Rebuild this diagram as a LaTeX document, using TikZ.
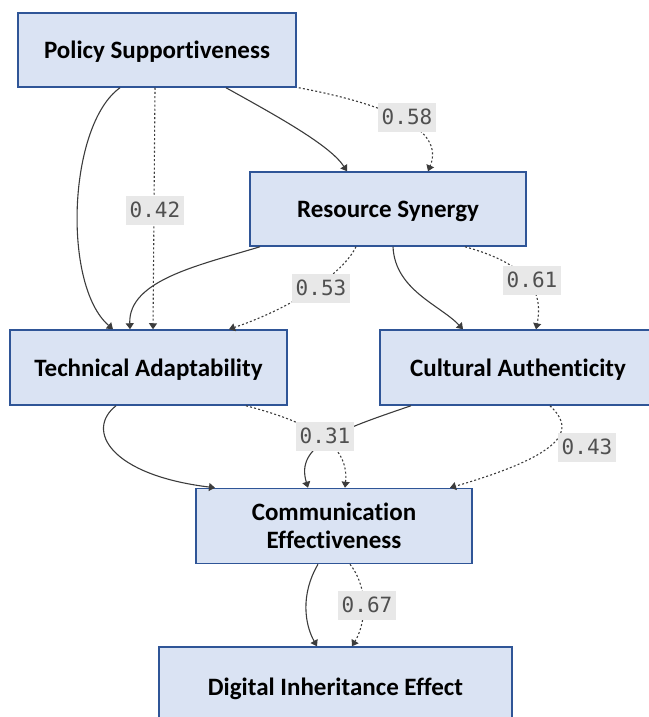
\documentclass[tikz,border=0pt]{standalone}
\usepackage{fontspec}
\setmainfont[Ligatures=NoCommon]{Carlito}
\newfontfamily\labelfont{DejaVu Sans Mono}
\usetikzlibrary{arrows.meta}
\definecolor{boxfill}{RGB}{218,227,243}
\definecolor{boxdraw}{RGB}{47,85,151}
\definecolor{edgecol}{RGB}{60,60,60}
\definecolor{lbltext}{RGB}{80,80,80}
\definecolor{lblfill}{RGB}{232,232,232}
\newcommand{\lowtxt}[1]{\raisebox{-3pt}[16pt][5pt]{#1}}
\tikzset{
  box/.style={draw=boxdraw, fill=boxfill, line width=1.5pt, minimum width=276pt, minimum height=75pt,
    inner sep=0pt, align=center, font=\fontsize{25}{29}\selectfont\bfseries},
  conn/.style={draw=edgecol, line width=1.1pt, -{Triangle[width=8pt,length=6pt]}},
  dotconn/.style={conn, dash pattern=on 2pt off 2.2pt},
  lbl/.style={fill=lblfill, text=lbltext, inner xsep=4pt, inner ysep=0pt, minimum height=29pt,
    font=\labelfont\fontsize{21}{22}\selectfont}
}
\begin{document}
\begin{tikzpicture}[x=1pt,y=-1pt]
\useasboundingbox (0,0) rectangle (648,717);
\node[box, minimum width=278pt, minimum height=74pt] (ps) at (157,50) {\lowtxt{Policy Supportiveness}};
\node[box, minimum height=74pt] (rs) at (388,209) {\lowtxt{Resource Synergy}};
\node[box, minimum width=277pt] (ta) at (148.5,367.5) {\lowtxt{Technical Adaptability}};
\node[box] (ca) at (518,367.5) {\lowtxt{Cultural Authenticity}};
\node[box] (ce) at (334,526) {\raisebox{-1pt}{Communication}\\Effectiveness};
\node[box, minimum width=353pt, minimum height=80pt] (die) at (335.5,687) {\lowtxt{Digital Inheritance Effect}};

% Policy -> Technical
\draw[conn] ([xshift=-37pt]ps.south) .. controls (68,125) and (62,285) .. ([xshift=-35.5pt]ta.north);
\draw[dotconn] ([xshift=-2pt]ps.south) -- ([xshift=4.5pt]ta.north);
% Policy -> Resource
\draw[conn] ([xshift=69pt]ps.south) .. controls (275,115) and (330,145) .. ([xshift=-41pt]rs.north);
\draw[dotconn] ([xshift=2pt]ps.south east) .. controls (390,105) and (445,130) .. ([xshift=40pt]rs.north);
% Resource -> Technical
\draw[conn] ([xshift=-128pt]rs.south) .. controls (200,265) and (128,280) .. ([xshift=-18.5pt]ta.north);
\draw[dotconn] ([xshift=-32pt]rs.south) .. controls (345,270) and (300,305) .. ([xshift=80.5pt]ta.north);
% Resource -> Cultural
\draw[conn] ([xshift=5pt]rs.south) .. controls (395,290) and (440,305) .. ([xshift=-55pt]ca.north);
\draw[dotconn] ([xshift=77pt]rs.south) .. controls (520,262) and (545,285) .. ([xshift=18pt]ca.north);
% Technical -> Communication
\draw[conn] ([xshift=-32.5pt]ta.south) .. controls (85,430) and (110,475) .. ([xshift=-119pt]ce.north);
\draw[dotconn] ([xshift=97.5pt]ta.south) .. controls (300,420) and (350,440) .. ([xshift=11pt]ce.north);
% Cultural -> Communication
\draw[conn] ([xshift=-107pt]ca.south) .. controls (340,430) and (295,445) .. ([xshift=-26pt]ce.north);
\draw[dotconn] ([xshift=32pt]ca.south) .. controls (570,425) and (580,450) .. ([xshift=116pt]ce.north);
% Communication -> Digital
\draw[conn] ([xshift=-16pt]ce.south) .. controls (300,595) and (305,625) .. ([xshift=-18.5pt]die.north);
\draw[dotconn] ([xshift=16pt]ce.south) .. controls (370,590) and (365,625) .. ([xshift=16.5pt]die.north);

% labels
\node[lbl] (l58) at (407,117) {0.58};
\node[lbl] (l42) at (155,210) {0.42};
\node[lbl] (l53) at (321,288) {0.53};
\node[lbl] (l61) at (532,280) {0.61};
\node[lbl] (l31) at (325,436) {0.31};
\node[lbl] (l43) at (587,447) {0.43};
\node[lbl] (l67) at (367,605) {0.67};
\end{tikzpicture}
\end{document}
